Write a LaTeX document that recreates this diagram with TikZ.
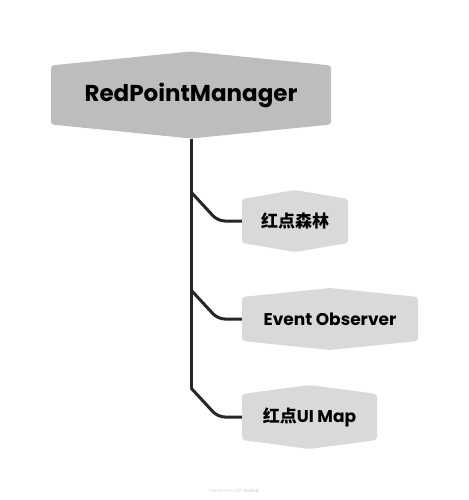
\documentclass[tikz,border=0pt]{standalone}
\usepackage{fontspec}
\setmainfont{Poppins}
\newfontfamily\cjk{Noto Sans CJK SC}
\usetikzlibrary{calc}
\definecolor{topfill}{HTML}{BDBDBD}
\definecolor{subfill}{HTML}{D9D9D9}
\definecolor{linecol}{HTML}{262626}
\tikzset{
  hexnode/.style 2 args={inner sep=0pt, font=\bfseries, text=black,
    path picture={
      \fill[#1, rounded corners=3pt]
        ([yshift=-#2]path picture bounding box.north west) --
        (path picture bounding box.north) --
        ([yshift=-#2]path picture bounding box.north east) --
        ([yshift=#2]path picture bounding box.south east) --
        (path picture bounding box.south) --
        ([yshift=#2]path picture bounding box.south west) -- cycle;
    }},
  topnode/.style={hexnode={topfill}{14pt}, font=\fontsize{23}{27}\selectfont\bfseries},
  subnode/.style={hexnode={subfill}{9pt}, font=\fontsize{17}{20}\selectfont\bfseries},
  conn/.style={draw=linecol, line width=3pt},
  branch/.style={conn, rounded corners=7pt}
}
\begin{document}
\begin{tikzpicture}[x=1pt, y=-1pt]
  \useasboundingbox[fill=white] (0,0) rectangle (468,500);
  \node[topnode, minimum width=280pt, minimum height=87pt] (top) at (191,95) {RedPointManager};
  \node[subnode, minimum width=106pt, minimum height=62pt] (c1) at (295,221) {\cjk\bfseries 红点森林};
  \node[subnode, minimum width=176pt, minimum height=62pt] (c2) at (330,319) {Event Observer};
  \node[subnode, minimum width=135pt, minimum height=64pt] (c3) at (309.5,417) {{\cjk\bfseries 红点}UI Map};
  \coordinate (j1) at ($(top.south |- c1.west)+(0,-29)$);
  \coordinate (j2) at ($(top.south |- c2.west)+(0,-29)$);
  \coordinate (j3) at ($(top.south |- c3.west)+(0,-29)$);
  \coordinate (k1) at ([xshift=-24pt]c1.west);
  \coordinate (k2) at ([xshift=-24pt]c2.west);
  \coordinate (k3) at ([xshift=-24pt]c3.west);
  \draw[conn] (top.south) -- (j3);
  \draw[branch] (j1) -- (k1) -- (c1.west);
  \draw[branch] (j2) -- (k2) -- (c2.west);
  \draw[branch] (j3) -- (k3) -- (c3.west);
  \node[font=\fontsize{4.5}{5}\selectfont, text=black!15, inner sep=0pt] (wm) at (234,491) {Presented with \textbf{xmind}};
\end{tikzpicture}
\end{document}
